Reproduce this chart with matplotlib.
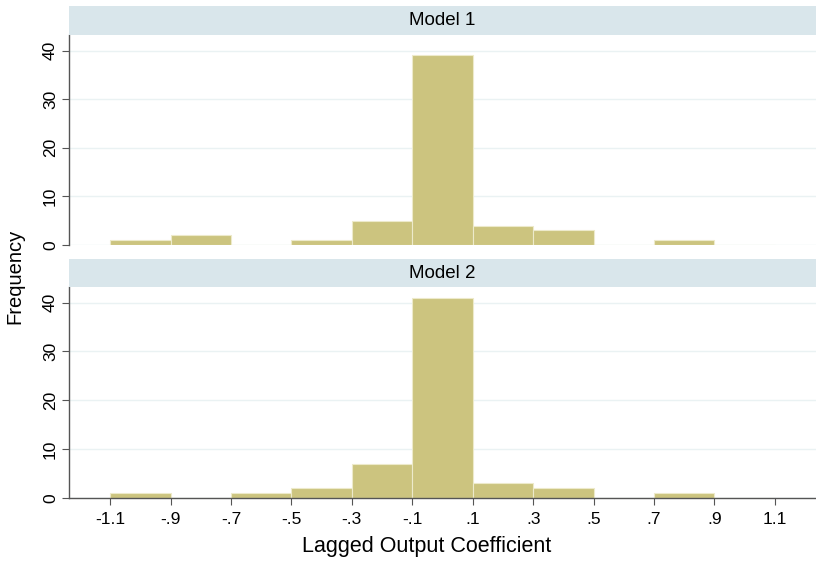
import matplotlib
matplotlib.use("Agg")
import matplotlib.pyplot as plt
import numpy as np

plt.rcParams['font.family'] = ['Liberation Sans', 'DejaVu Sans']

bin_edges = [-1.1, -0.9, -0.7, -0.5, -0.3, -0.1, 0.1, 0.3, 0.5, 0.7, 0.9, 1.1]
model1_counts = [1, 2, 0, 1, 5, 39, 4, 3, 0, 1, 0]
model2_counts = [1, 0, 1, 2, 7, 41, 3, 2, 0, 1, 0]
panel_titles = ["Model 1", "Model 2"]
x_ticks = [-1.1, -0.9, -0.7, -0.5, -0.3, -0.1, 0.1, 0.3, 0.5, 0.7, 0.9, 1.1]
x_tick_labels = ["-1.1", "-.9", "-.7", "-.5", "-.3", "-.1", ".1", ".3", ".5", ".7", ".9", "1.1"]
y_ticks = [0, 10, 20, 30, 40]
x_label = "Lagged Output Coefficient"
y_label = "Frequency"

bar_color = "#CCC47F"
edge_color = "#EDEACB"
grid_color = "#EAF2F3"
strip_color = "#D9E6EB"
axis_color = "#555555"

W, H = 816, 563
fig = plt.figure(figsize=(W / 100, H / 100), dpi=100)

def fx(px):
    return px / W

def fy(py):
    return 1 - py / H

panels = [
    # (strip top, plot top, plot bottom)
    (6, 35, 245),
    (259, 287, 498),
]
left_px, right_px = 69, 816
xlim = (-1.236, 1.236)
ylim = (0, 43.2)

edges = np.array(bin_edges)
widths = np.diff(edges)

for i, (counts, title, (st, pt, pb)) in enumerate(zip([model1_counts, model2_counts], panel_titles, panels)):
    ax = fig.add_axes([fx(left_px), fy(pb), fx(right_px - left_px), fy(pt) - fy(pb)])
    ax.bar(edges[:-1], counts, width=widths, align='edge', color=bar_color,
           edgecolor=edge_color, linewidth=0.8, zorder=2)
    ax.set_xlim(*xlim)
    ax.set_ylim(*ylim)
    ax.set_yticks(y_ticks)
    ax.set_yticklabels([str(v) for v in y_ticks], rotation=90, va='center', fontsize=12.5)
    ax.yaxis.grid(True, color=grid_color, linewidth=1.0, zorder=0)
    ax.set_axisbelow(True)
    for s in ['top', 'right']:
        ax.spines[s].set_visible(False)
    ax.spines['left'].set_color(axis_color)
    ax.spines['left'].set_linewidth(1.0)
    ax.tick_params(axis='y', length=5, color=axis_color, pad=3)
    if i == 0:
        ax.spines['bottom'].set_visible(False)
        ax.set_xticks([])
    else:
        ax.spines['bottom'].set_color(axis_color)
        ax.spines['bottom'].set_linewidth(1.0)
        ax.set_xticks(x_ticks)
        ax.set_xticklabels(x_tick_labels, fontsize=12.5)
        ax.tick_params(axis='x', length=5, color=axis_color, pad=5)
        ax.set_xlabel(x_label, fontsize=15.5)
        ax.xaxis.set_label_coords((427 - left_px) / (right_px - left_px), -0.18)
    # strip
    sax = fig.add_axes([fx(left_px), fy(pt), fx(right_px - left_px), fy(st) - fy(pt)])
    sax.set_facecolor(strip_color)
    sax.set_xticks([])
    sax.set_yticks([])
    for s in sax.spines.values():
        s.set_visible(False)
    sax.text(0.5, 0.5, title, ha='center', va='center', fontsize=13.5, transform=sax.transAxes)

fig.text(fx(15), fy(276), y_label, rotation=90, ha='center', va='center', fontsize=14.5)

fig.savefig("out.png", dpi=100)
